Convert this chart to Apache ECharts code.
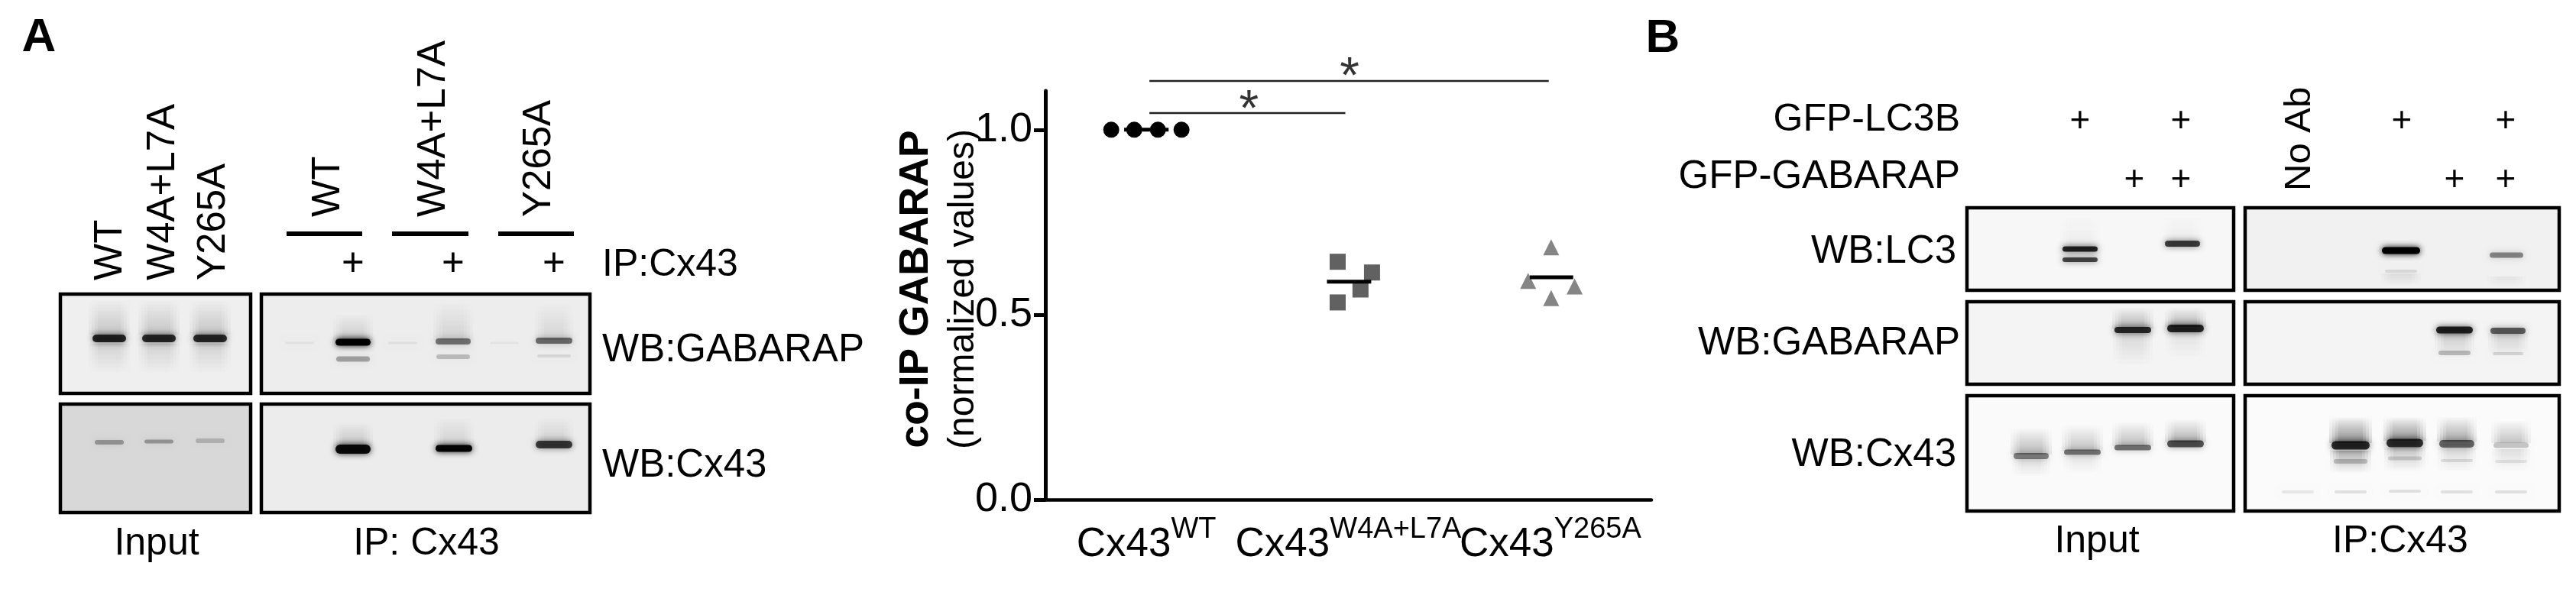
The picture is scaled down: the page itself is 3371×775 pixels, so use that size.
<!DOCTYPE html>
<html><head><meta charset="utf-8">
<style>html,body{margin:0;padding:0;background:#fff}#c{width:3371px;height:775px}</style>
<script src="https://cdn.jsdelivr.net/npm/echarts@6/dist/echarts.min.js"></script>
</head><body><div id="c"></div>
<script>
// ---- chart data ----
const categories = ['WT', 'W4A+L7A', 'Y265A'];
const yTicks = [0, 0.5, 1];
const wtPoints = [[0.826, 1], [0.94, 1], [1.057, 1], [1.174, 1]];
const dmPoints = [[1.947, 0.643], [2.117, 0.614], [2.06, 0.568], [1.947, 0.533]];
const yPoints = [[3.004, 0.682], [2.89, 0.591], [3.12, 0.576], [3.004, 0.545]];
const wtMean = [[0.89, 1], [1.11, 1]];
const dmMean = [[1.894, 0.589], [2.113, 0.589]];
const yMean = [[2.898, 0.601], [3.113, 0.601]];
const sigLow = [[1.015, 1.045], [1.985, 1.045]];
const sigHigh = [[1.015, 1.132], [2.992, 1.132]];
const sigStars = [[1.508, 1.050], [2.006, 1.138]];

// ---- western-blot illustration: panels, bands, smears, text ----
const FONT = '"Liberation Sans", Arial, sans-serif';
// panel: x0,y0,x1,y1,background
const panels = [
  [79,385,328,515,'#efefef'], [342,385,772,515,'#ededed'],
  [79,529,328,671,'#d8d8d8'], [342,529,772,671,'#ececec'],
  [2574,272,2923,380,'#f7f7f7'], [2938,272,3349,380,'#f1f1f1'],
  [2574,395,2923,503,'#f4f4f4'], [2938,395,3349,503,'#f4f4f4'],
  [2574,518,2923,669,'#fafafa'], [2938,518,3349,669,'#fbfbfb']
];
// smear: x centre, y top, y bottom, width, alpha (negative: fades downward)
const smears = [
  [143,392,438,54,.14],[208,392,438,54,.14],[275,392,438,54,.14],
  [143,450,490,54,-.10],[208,450,490,54,-.10],[275,450,490,54,-.10],
  [462,410,445,52,.12],[593,395,445,52,.10],[725,395,445,50,.08],
  [462,552,584,52,.14],[594,545,584,52,.09],[725,545,578,50,.10],
  [2722,280,322,52,.04],[2856,280,316,50,.04],
  [3142,358,375,52,-.07],[3280,362,378,50,-.05],
  [2791,402,430,54,.22],[2860,402,428,54,.22],
  [2791,436,480,52,-.09],[2860,436,470,52,-.06],
  [3212,436,468,52,-.14],[3282,436,468,52,-.12],
  [2658,560,595,54,.22],[2725,556,590,54,.18],[2791,552,584,54,.20],[2860,548,579,54,.24],
  [3076,545,580,56,.40],[3147,545,577,56,.38],[3215,545,578,52,.28],[3286,550,580,52,.18],
  [2658,600,625,50,-.09],[2725,596,620,50,-.07],[3076,590,620,54,-.22],[3147,586,618,54,-.16],[3215,586,618,50,-.11],[3286,588,618,50,-.08]
];
// band: x centre, y centre, width, height, alpha
const bands = [
  [143,443,44,10,.8],[208,443,44,10,.78],[275,443,44,10,.78],
  [392,449,38,3,.05],[462,448,46,9,1],[462,470,44,7,.3],
  [527,449,38,3,.06],[593,447,46,8,.48],[593,467,44,6,.2],
  [660,449,38,3,.04],[725,446,48,8,.5],[725,466,44,4,.09],
  [143,579,38,6,.3],[208,578,38,5,.3],[275,577,38,6,.18],
  [462,588,46,12,.92],[594,587,48,9,.96],[725,582,48,10,.7],
  [2722,326,46,7,.82],[2722,340,46,6,.68],[2856,319,46,8,.7],
  [3142,328,50,9,1],[3142,355,42,4,.1],[3280,334,44,7,.42],
  [2791,432,48,8,.78],[2860,430,48,10,.8],
  [3212,432,48,9,.82],[3212,462,42,6,.22],[3282,433,46,8,.58],[3282,463,40,4,.12],
  [2658,597,46,8,.45],[2725,592,48,7,.5],[2791,586,48,7,.5],[2860,581,48,9,.62],
  [3076,583,50,11,.78],[3147,580,48,11,.76],[3215,581,46,10,.55],[3286,583,46,7,.2],
  [3076,604,44,6,.2],[3147,600,44,5,.14],[3215,603,42,4,.1],[3286,604,42,4,.08],
  [3007,644,42,4,.08],[3076,644,42,4,.1],[3147,643,42,4,.1],[3215,644,42,4,.1],[3286,644,42,4,.1]
];
// rule: x0,x1,y
const rules = [[375,474,306],[513,613,306],[652,751,306]];
// text: string, x, y, align, size, weight, rotated
const labels = [
  ['A',51,50,'center',62,'bold',0], ['B',2176,51,'center',62,'bold',0],
  ['WT',145,367,'left',51,'normal',1], ['W4A+L7A',214,367,'left',51,'normal',1], ['Y265A',280,367,'left',51,'normal',1],
  ['WT',430,284,'left',51,'normal',1], ['W4A+L7A',568,284,'left',51,'normal',1], ['Y265A',706,284,'left',51,'normal',1],
  ['+',462,347,'center',51,'normal',0], ['+',593,347,'center',51,'normal',0], ['+',725,347,'center',51,'normal',0],
  ['IP:Cx43',788,347,'left',50,'normal',0], ['WB:GABARAP',788,459,'left',51,'normal',0], ['WB:Cx43',788,610,'left',51,'normal',0],
  ['Input',205,712,'center',50,'normal',0], ['IP: Cx43',558,712,'center',50,'normal',0],
  ['GFP-LC3B',2565,157,'right',50,'normal',0], ['GFP-GABARAP',2565,232,'right',51,'normal',0],
  ['+',2722,159,'center',46,'normal',0], ['+',2854,159,'center',46,'normal',0],
  ['+',2793,236,'center',46,'normal',0], ['+',2854,236,'center',46,'normal',0],
  ['+',3143,159,'center',46,'normal',0], ['+',3279,159,'center',46,'normal',0],
  ['+',3212,236,'center',46,'normal',0], ['+',3279,236,'center',46,'normal',0],
  ['No Ab',3009,250,'left',49,'normal',1],
  ['WB:LC3',2560,330,'right',51,'normal',0], ['WB:GABARAP',2565,450,'right',51,'normal',0], ['WB:Cx43',2560,596,'right',51,'normal',0],
  ['Input',2744,709,'center',50,'normal',0], ['IP:Cx43',3141,709,'center',50,'normal',0]
];

const g = [];
panels.forEach(p => g.push({type:'rect',z:1,shape:{x:p[0],y:p[1],width:p[2]-p[0],height:p[3]-p[1]},style:{fill:p[4]}}));
smears.forEach(s => {
  const a = Math.abs(s[4]) / 3, down = s[4] < 0;
  // nested strips give the smear a soft sideways edge
  [0, 4, 8, 12].forEach(inset => g.push({type:'rect',z:2,shape:{x:s[0]-s[3]/2+inset,y:s[1],width:s[3]-inset*2,height:s[2]-s[1]},
    style:{fill:{type:'linear',x:0,y:0,x2:0,y2:1,colorStops:[
      {offset:0,color:`rgba(0,0,0,${down?a:0})`},{offset:1,color:`rgba(0,0,0,${down?0:a})`}]}}}));
});
bands.forEach(b => g.push({type:'rect',z:3,shape:{x:b[0]-b[2]/2,y:b[1]-b[3]/2,width:b[2],height:b[3],r:b[3]/2},
  style:{fill:`rgba(0,0,0,${b[4]})`,shadowBlur:9,shadowColor:`rgba(0,0,0,${b[4]})`}}));
panels.forEach(p => g.push({type:'rect',z:4,shape:{x:p[0],y:p[1],width:p[2]-p[0],height:p[3]-p[1]},style:{fill:null,stroke:'#000',lineWidth:4.5}}));
rules.forEach(r => g.push({type:'rect',z:4,shape:{x:r[0],y:r[2]-3,width:r[1]-r[0],height:6},style:{fill:'#000'}}));
labels.forEach(t => g.push({type:'text',z:5,x:t[1],y:t[2],rotation:t[6]?Math.PI/2:0,
  style:{text:t[0],fill:'#000',font:`${t[5]} ${t[4]}px ${FONT}`,textAlign:t[3],textVerticalAlign:'middle'}}));

const dots = (data, symbol, color) => ({type:'scatter',xAxisIndex:1,data,symbol,symbolSize:21,itemStyle:{color,opacity:1},z:3,silent:true});
const seg = (data, width, color) => ({type:'line',xAxisIndex:1,data,symbol:'none',clip:false,lineStyle:{color,width,cap:'butt'},z:4,silent:true,animation:false});

const option = {
  animation:false, backgroundColor:'#fff', textStyle:{fontFamily:FONT},
  grid:{left:1368,top:119,width:793,height:535,containLabel:false},
  xAxis:[{
    type:'category',data:categories,boundaryGap:true,
    axisLine:{lineStyle:{color:'#000',width:4.5}},
    axisTick:{alignWithLabel:true,length:17,lineStyle:{color:'#000',width:4}},
    axisLabel:{margin:16,interval:0,color:'#000',
      formatter:v=>`{a|Cx43}{s|${v}}`,
      rich:{a:{fontFamily:FONT,fontSize:53,color:'#000',verticalAlign:'bottom',lineHeight:70},
            s:{fontFamily:FONT,fontSize:38,color:'#000',verticalAlign:'bottom',padding:[0,0,27,0],lineHeight:70}}}
  },{type:'value',min:0.5,max:3.5,show:false}],
  yAxis:{type:'value',min:0,max:1.105,
    axisLine:{show:true,lineStyle:{color:'#000',width:5}},
    axisTick:{show:true,length:15,customValues:yTicks,lineStyle:{color:'#000',width:5}},
    axisLabel:{margin:17,color:'#000',fontFamily:FONT,fontSize:54,customValues:yTicks,formatter:v=>v.toFixed(1)},
    splitLine:{show:false},
    nameLocation:'middle',nameRotate:90,nameGap:78,nameMoveOverlap:false,
    name:'{b|co-IP GABARAP}\n{r|(normalized values)}',
    nameTextStyle:{padding:[0,0,0,16],rich:{
      b:{fontFamily:FONT,fontSize:53.5,fontWeight:'bold',color:'#000',lineHeight:66},
      r:{fontFamily:FONT,fontSize:48,color:'#000',lineHeight:58}}}
  },
  series:[
    dots(wtPoints,'circle','#000'), dots(dmPoints,'rect','#616161'), dots(yPoints,'triangle','#858585'),
    seg(wtMean,5,'#000'), seg(dmMean,5,'#000'), seg(yMean,5,'#000'),
    seg(sigLow,2.5,'#222'), seg(sigHigh,2.5,'#222'),
    {type:'scatter',xAxisIndex:1,data:sigStars,symbolSize:1,clip:false,itemStyle:{color:'rgba(0,0,0,0)'},silent:true,
     label:{show:true,position:'inside',formatter:'*',color:'#000',fontFamily:FONT,fontSize:66}}
  ],
  graphic:{elements:g}
};
echarts.init(document.getElementById('c'),null,{renderer:'canvas'}).setOption(option);
</script></body></html>
